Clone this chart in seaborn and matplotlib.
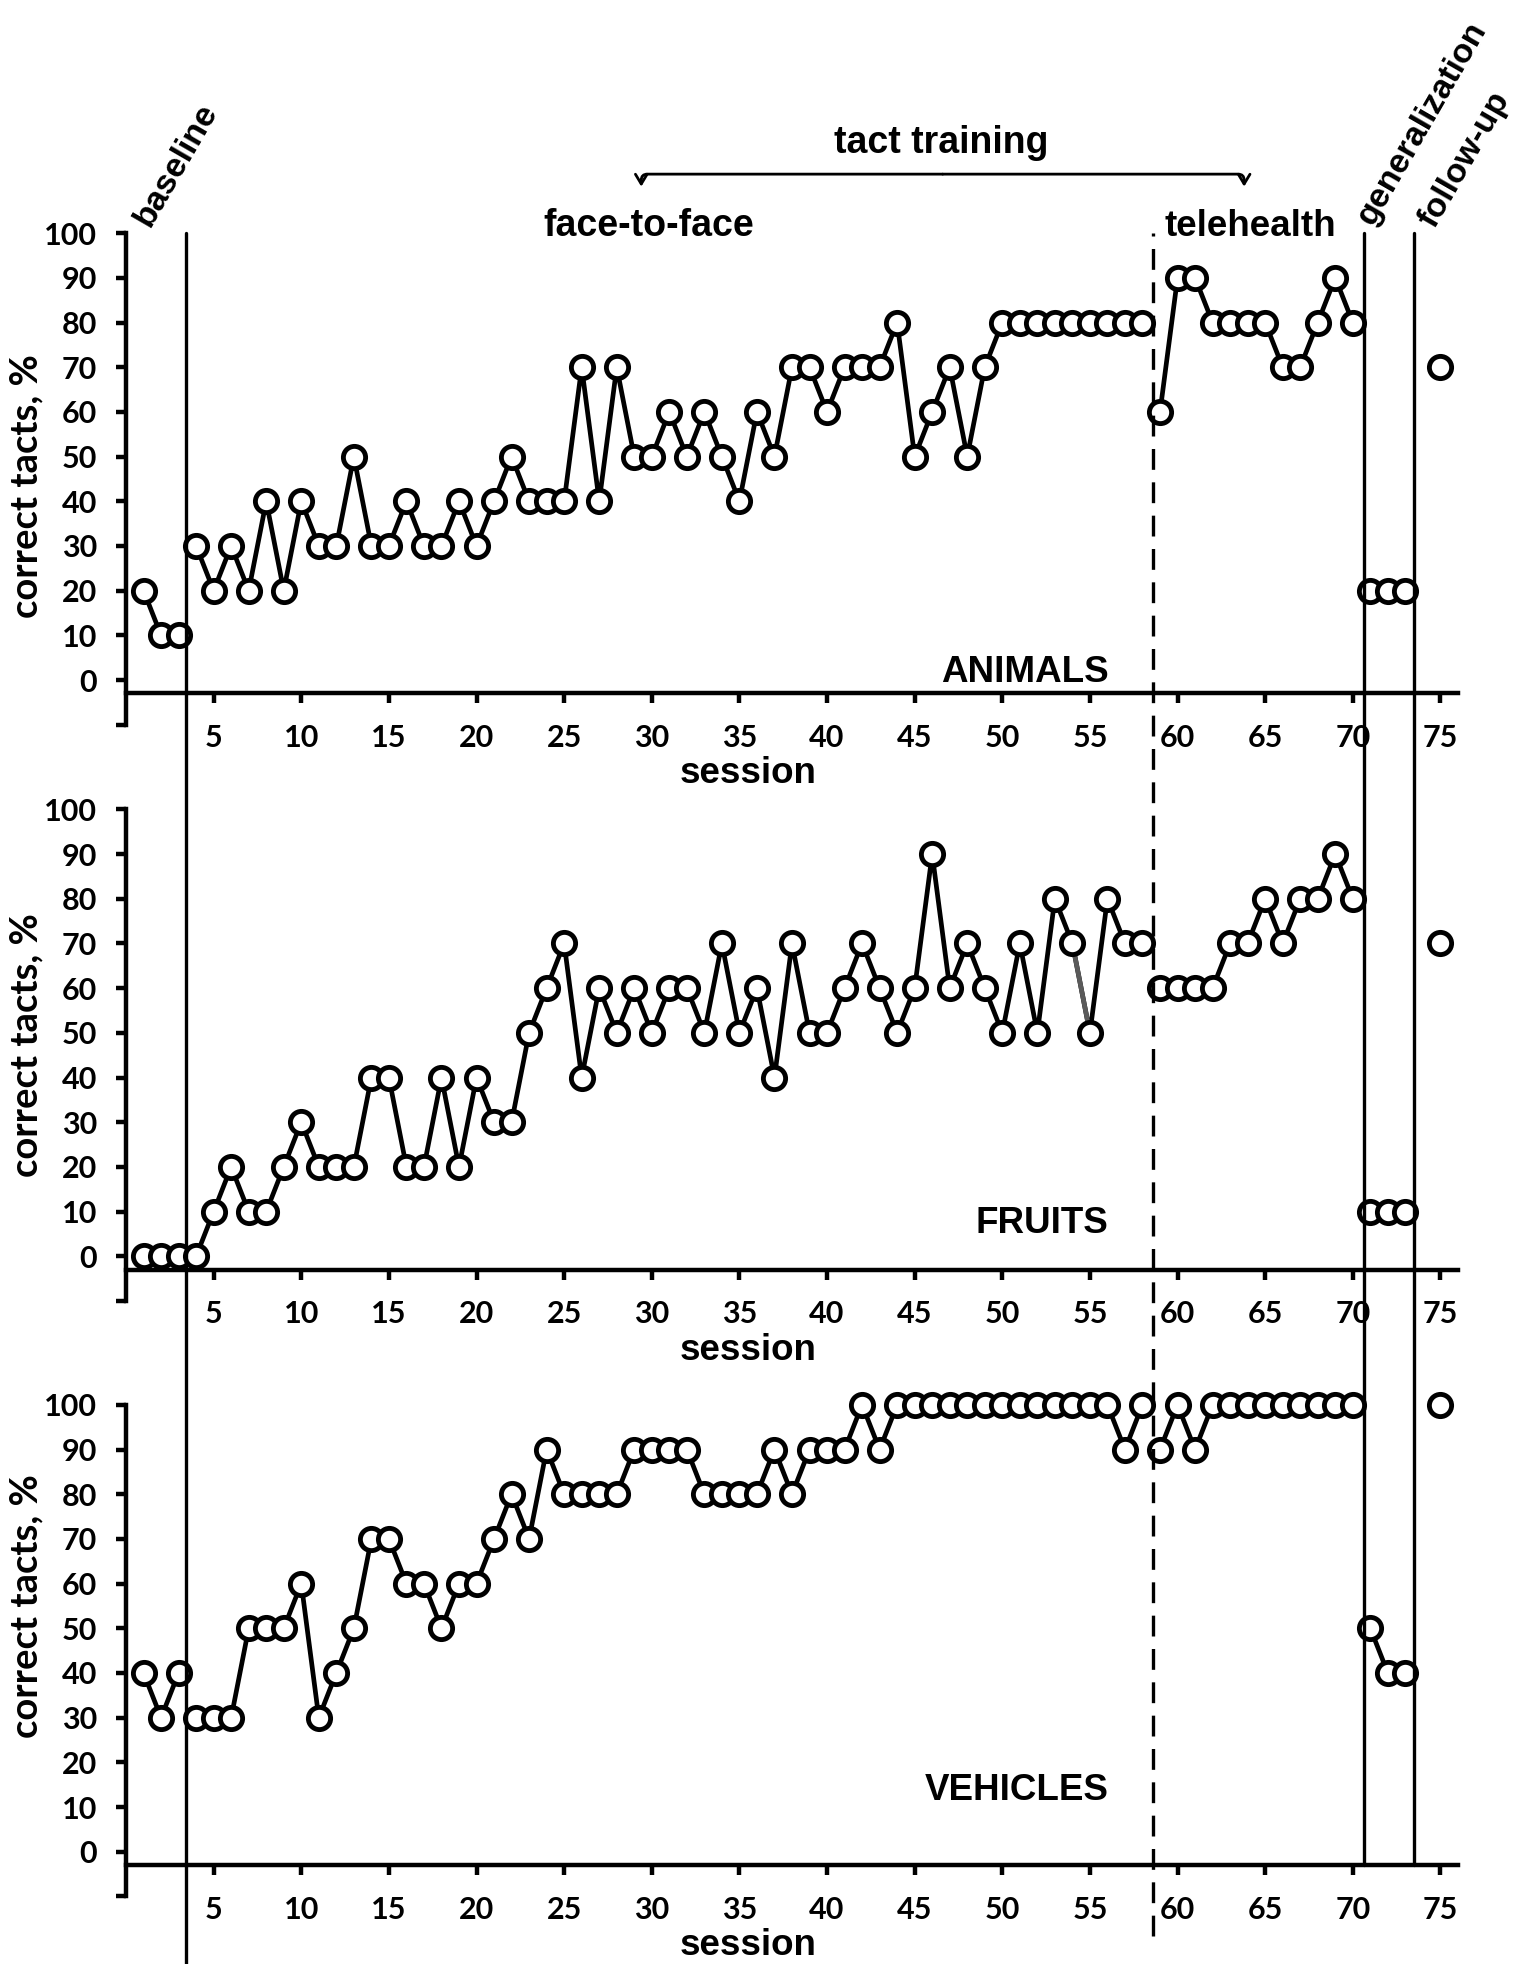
import matplotlib.pyplot as plt
import matplotlib.transforms as mtransforms
from matplotlib.lines import Line2D
import seaborn as sns

sns.set_style('ticks')
plt.rcParams['font.family'] = ['Lato', 'DejaVu Sans']
plt.rcParams['font.weight'] = 'bold'
plt.rcParams['axes.labelweight'] = 'bold'
plt.rcParams['lines.scale_dashes'] = False
# seaborn greys the text and spines; the original is pure black
for key in ['text.color', 'axes.labelcolor', 'xtick.color', 'ytick.color', 'axes.edgecolor']:
    plt.rcParams[key] = 'black'

# sessions in each phase
base_sessions = [1, 2, 3]
f2f_sessions = list(range(4, 59))
tele_sessions = list(range(59, 71))
gen_sessions = [71, 72, 73]
follow_sessions = [75]
phase_sessions = [base_sessions, f2f_sessions, tele_sessions, gen_sessions, follow_sessions]

# % correct tacts
animals_base = [20, 10, 10]
animals_f2f = [30, 20, 30, 20, 40, 20, 40, 30, 30, 50,
               30, 30, 40, 30, 30, 40, 30, 40, 50, 40,
               40, 40, 70, 40, 70, 50, 50, 60, 50, 60,
               50, 40, 60, 50, 70, 70, 60, 70, 70, 70,
               80, 50, 60, 70, 50, 70, 80, 80, 80, 80,
               80, 80, 80, 80, 80]
animals_tele = [60, 90, 90, 80, 80, 80, 80, 70, 70, 80, 90, 80]
animals_gen = [20, 20, 20]
animals_follow = [70]

fruits_base = [0, 0, 0]
fruits_f2f = [0, 10, 20, 10, 10, 20, 30, 20, 20, 20,
              40, 40, 20, 20, 40, 20, 40, 30, 30, 50,
              60, 70, 40, 60, 50, 60, 50, 60, 60, 50,
              70, 50, 60, 40, 70, 50, 50, 60, 70, 60,
              50, 60, 90, 60, 70, 60, 50, 70, 50, 80,
              70, 50, 80, 70, 70]
fruits_tele = [60, 60, 60, 60, 70, 70, 80, 70, 80, 80, 90, 80]
fruits_gen = [10, 10, 10]
fruits_follow = [70]
# one segment drawn in grey in the original
fruits_grey_sessions = [54, 55]
fruits_grey_values = [70, 50]

vehicles_base = [40, 30, 40]
vehicles_f2f = [30, 30, 30, 50, 50, 50, 60, 30, 40, 50,
                70, 70, 60, 60, 50, 60, 60, 70, 80, 70,
                90, 80, 80, 80, 80, 90, 90, 90, 90, 80,
                80, 80, 80, 90, 80, 90, 90, 90, 100, 90,
                100, 100, 100, 100, 100, 100, 100, 100, 100, 100,
                100, 100, 100, 90, 100]
vehicles_tele = [90, 100, 90, 100, 100, 100, 100, 100, 100, 100, 100, 100]
vehicles_gen = [50, 40, 40]
vehicles_follow = [100]

x_ticks = [5, 10, 15, 20, 25, 30, 35, 40, 45, 50, 55, 60, 65, 70, 75]
y_ticks = [-10, 0, 10, 20, 30, 40, 50, 60, 70, 80, 90, 100]
y_labels = [''] + [str(v) for v in y_ticks[1:]]

panels = [
    ('ANIMALS', [animals_base, animals_f2f, animals_tele, animals_gen, animals_follow], 1.6, 0.485),
    ('FRUITS', [fruits_base, fruits_f2f, fruits_tele, fruits_gen, fruits_follow], 7.4, 0.521),
    ('VEHICLES', [vehicles_base, vehicles_f2f, vehicles_tele, vehicles_gen, vehicles_follow], 13.6, 0.59),
]

ARIAL = 'Liberation Sans'
LW = 3.4

fig = plt.figure(figsize=(15.35, 19.64), dpi=100)
bottoms = [0.6310, 0.3376, 0.0344]
axes = [fig.add_axes([0.0821, b, 0.8677, 0.2503]) for b in bottoms]

for ax, (name, series, name_y, ylab_y) in zip(axes, panels):
    for sess, vals in zip(phase_sessions, series):
        sns.lineplot(x=sess, y=vals, ax=ax, color='black', linewidth=LW,
                     zorder=3, clip_on=False)
        sns.scatterplot(x=sess, y=vals, ax=ax, s=16 ** 2, color='white',
                        edgecolor='black', linewidth=3.5, zorder=4, clip_on=False)
    if name == 'FRUITS':
        sns.lineplot(x=fruits_grey_sessions, y=fruits_grey_values, ax=ax,
                     color='#5a5a5a', linewidth=LW, zorder=3.5)

    ax.set_xlim(0, 76)
    ax.set_ylim(-10, 100)
    ax.spines['top'].set_visible(False)
    ax.spines['right'].set_visible(False)
    ax.spines['bottom'].set_position(('data', -3))
    ax.spines['left'].set_linewidth(3.2)
    ax.spines['bottom'].set_linewidth(3.2)

    ax.set_xticks(x_ticks)
    ax.set_yticks(y_ticks)
    ax.set_yticklabels(y_labels)
    ax.tick_params(axis='y', direction='out', length=7, width=3.2, pad=14, labelsize=22)
    ax.tick_params(axis='x', direction='out', length=7, width=3.2, pad=15, labelsize=22)
    for lbl in ax.get_xticklabels() + ax.get_yticklabels():
        lbl.set_fontweight('bold')

    ax.set_xlabel('session', family=ARIAL, fontsize=26.5, fontweight='bold', va='center')
    ax.xaxis.set_label_coords(0.467, -0.1)
    ax.set_ylabel('correct tacts, %', fontsize=27.5, fontweight='bold', va='center')
    ax.yaxis.set_label_coords(-0.075, ylab_y)

    ax.text(56.05, name_y, name, ha='right', va='center', family=ARIAL, fontsize=26.5)

top = axes[0]
# phase headers
top.text(1.35, 101.1, 'baseline', rotation=60, rotation_mode='anchor',
         ha='left', va='baseline', family=ARIAL, fontsize=24.5)
top.text(71.1, 101.5, 'generalization', rotation=60, rotation_mode='anchor',
         ha='left', va='baseline', family=ARIAL, fontsize=24.5)
top.text(74.65, 100.7, 'follow-up', rotation=60, rotation_mode='anchor',
         ha='left', va='baseline', family=ARIAL, fontsize=24.5)
top.text(23.8, 99.4, 'face-to-face', ha='left', va='baseline', family=ARIAL, fontsize=27)
top.text(59.25, 99.4, 'telehealth', ha='left', va='baseline', family=ARIAL, fontsize=26.5)
top.text(46.5, 118, 'tact training', ha='center', va='baseline', family=ARIAL, fontsize=27)

# bracket over the two training conditions
for tip in (29.4, 63.8):
    top.annotate('', xy=(tip, 110.4), xytext=(46.6, 113.2), annotation_clip=False,
                 arrowprops=dict(arrowstyle='->,head_length=0.5,head_width=0.3',
                                 connectionstyle='angle,angleA=0,angleB=90,rad=6',
                                 lw=2.0, color='black', shrinkA=0, shrinkB=0,
                                 mutation_scale=14))

# phase change lines run through all three panels
trans = mtransforms.blended_transform_factory(top.transData, fig.transFigure)
line_top = 0.8814
for x, y_end, style in [(3.4, 0.0, '-'), (58.6, 0.0143, '--'),
                        (70.65, 0.0504, '-'), (73.5, 0.0504, '-')]:
    ln = Line2D([x, x], [y_end, line_top], transform=trans, color='black', lw=2.4)
    if style == '--':
        ln.set_dashes((15, 9))
    fig.add_artist(ln)

fig.savefig('out.png', dpi=100)
